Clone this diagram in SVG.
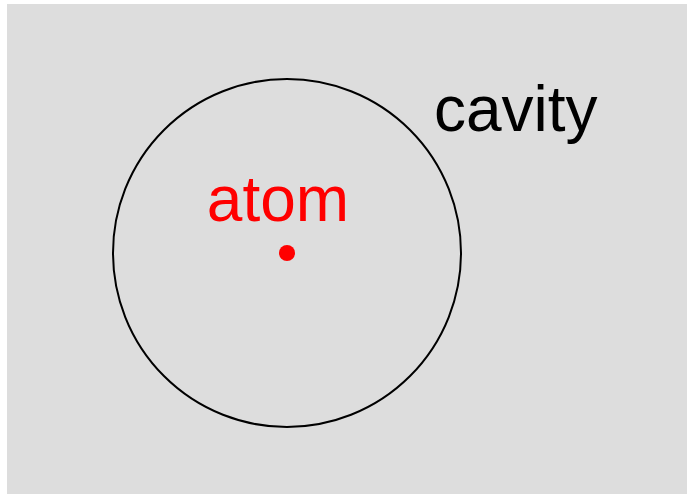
<svg xmlns="http://www.w3.org/2000/svg" width="692" height="497" viewBox="0 0 692 497">
<style>
.lbl{font-family:"Liberation Sans",Arial,sans-serif;font-size:64px}
</style>
<rect width="692" height="497" fill="#ffffff"/>
<g id="cavity">
<rect x="7" y="4" width="680" height="490" fill="#dddddd"/>
<circle cx="287" cy="253" r="174" fill="none" stroke="#000" stroke-width="2"/>
<text class="lbl" x="434" y="131" fill="#000">cavity</text>
</g>
<g id="atom">
<circle cx="287" cy="253" r="8" fill="#ff0000"/>
<text class="lbl" x="278" y="221" text-anchor="middle" fill="#ff0000">atom</text>
</g>
</svg>
